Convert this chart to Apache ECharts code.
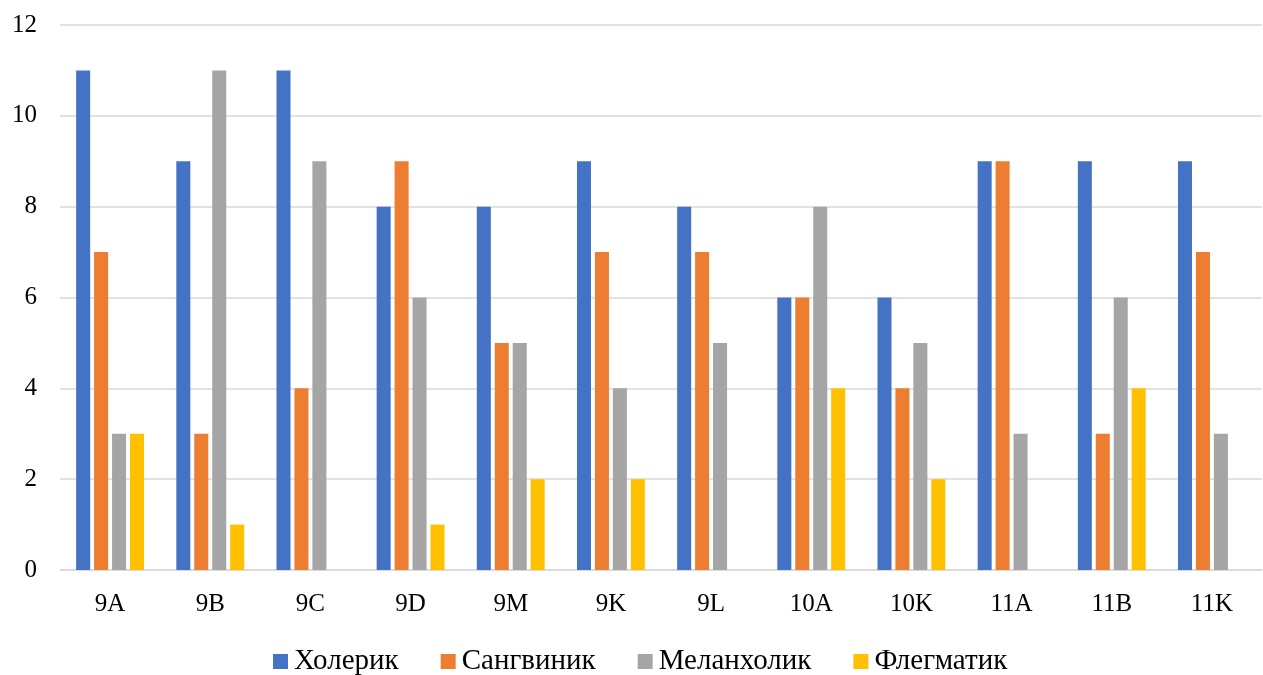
<!DOCTYPE html>
<html><head><meta charset="utf-8">
<script src="https://cdn.jsdelivr.net/npm/echarts@6/dist/echarts.min.js"></script>
<style>html,body{margin:0;padding:0;background:#fff}#c{width:1263px;height:675px}</style>
</head><body><div id="c"></div>
<script>
const categories = ['9A','9B','9C','9D','9M','9K','9L','10A','10K','11A','11B','11K'];
const choleric = [11,9,11,8,8,9,8,6,6,9,9,9];
const sanguine = [7,3,4,9,5,7,7,6,4,9,3,7];
const melancholic = [3,11,9,6,5,4,5,8,5,3,6,3];
const phlegmatic = [3,1,0,1,2,2,0,4,2,0,4,0];
const seriesNames = ['Холерик','Сангвиник','Меланхолик','Флегматик'];
const colors = ['#4472C4','#ED7D31','#A5A5A5','#FFC000'];
const yTicks = {min:0, max:12, interval:2};

const font = '"Liberation Serif", "DejaVu Serif", serif';
const chart = echarts.init(document.getElementById('c'));
const data = [choleric, sanguine, melancholic, phlegmatic];
chart.setOption({
  animation:false,
  color: colors,
  grid:{left:60, right:1, top:25, bottom:105, containLabel:false},
  legend:{
    top:642, left:268, itemWidth:15, itemHeight:15, itemGap:42,
    icon:'rect',
    textStyle:{fontFamily:font, fontSize:29, color:'#000', padding:[0,0,0,1]},
    data: seriesNames
  },
  xAxis:{
    type:'category', data:categories,
    axisLine:{lineStyle:{color:'#d9d9d9', width:1.5}},
    axisTick:{show:false},
    axisLabel:{fontFamily:font, fontSize:25, color:'#000', margin:22}
  },
  yAxis:{
    type:'value', min:yTicks.min, max:yTicks.max, interval:yTicks.interval,
    axisLine:{show:false}, axisTick:{show:false},
    splitLine:{lineStyle:{color:'#d9d9d9', width:1.5}},
    axisLabel:{fontFamily:font, fontSize:25, color:'#000', margin:23}
  },
  series: seriesNames.map((n,i)=>({
    name:n, type:'bar', data:data[i],
    barWidth:'14%', barGap:'28%', barCategoryGap:'32%'
  }))
});
</script></body></html>
